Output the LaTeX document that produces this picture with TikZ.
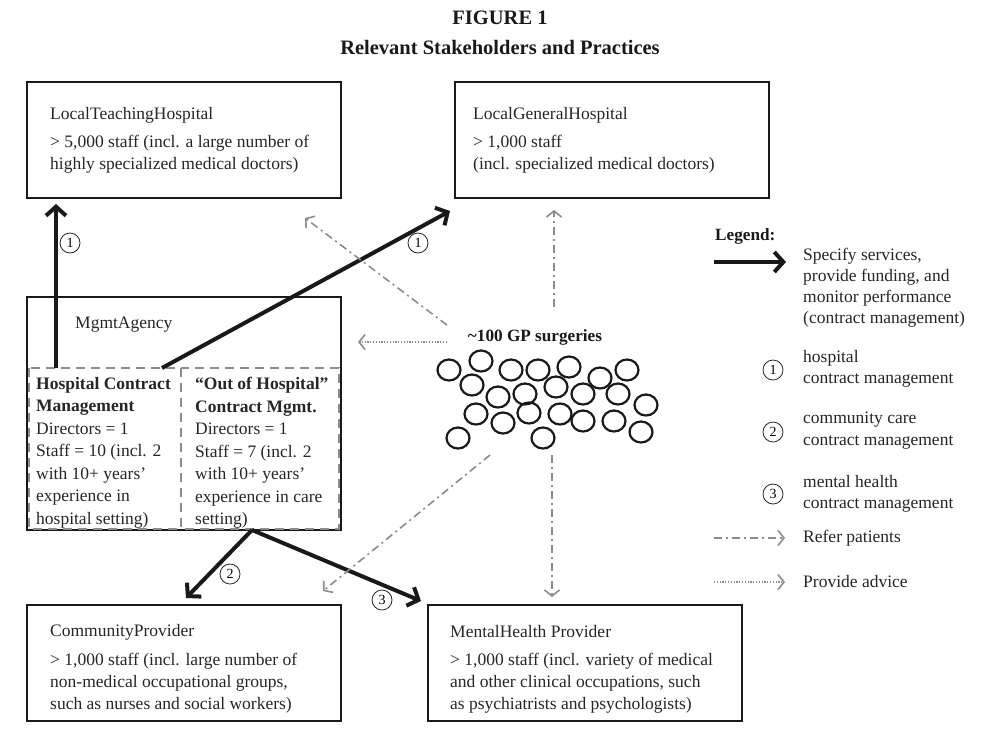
\documentclass[tikz,border=0pt]{standalone}
\usepackage{fontspec}
\setmainfont{Liberation Serif}
\usetikzlibrary{arrows.meta}
\begin{document}
\begin{tikzpicture}[x=1pt,y=-1pt,
  box/.style={draw=black!90, line width=2.2pt, inner sep=0pt},
  txt/.style={inner sep=0pt, align=left, font=\fontsize{17.5}{22}\selectfont, text=black!85},
  ttl/.style={inner sep=0pt, font=\fontsize{20.5}{22}\bfseries\selectfont, text=black!90},
  contract/.style={line width=4pt, draw=black!90, -{Straight Barb[length=9pt,width=20pt,line width=4pt]}},
  refer/.style={line width=1.6pt, draw=black!45, dash pattern=on 8pt off 4pt on 2pt off 4pt, -{Straight Barb[length=6pt,width=15pt,line width=1.6pt]}},
  advice/.style={line width=1.6pt, draw=black!45, dash pattern=on 1.2pt off 1.6pt, -{Straight Barb[length=6pt,width=15pt,line width=1.6pt]}},
  inner/.style={draw=black!45, line width=2.2pt, dash pattern=on 9pt off 6pt},
  num/.style={circle, draw=black!85, line width=0.8pt, inner sep=0pt, minimum size=20pt, font=\fontsize{14}{14}\selectfont},
  gpc/.style={draw=black!90, line width=2.2pt},
  bold/.style={inner sep=0pt, font=\fontsize{17.2}{18}\bfseries\selectfont, text=black!90}
]
\useasboundingbox (0,0) rectangle (1001,748);

% title
\node[ttl] (t1) at (500,18) {FIGURE 1};
\node[ttl] (t2) at (500,47) {Relevant Stakeholders and Practices};

% boxes
\node[box, minimum width=314pt, minimum height=116pt] (lth) at (184,140) {};
\node[txt, anchor=west] (lthT) at (50,115) {LocalTeachingHospital};
\node[txt, anchor=north west] (lthB) at (50,135) {> 5,000 staff (incl. a large number of\\highly specialized medical doctors)};

\node[box, minimum width=314pt, minimum height=116pt] (lgh) at (612,140) {};
\node[txt, anchor=west] (lghT) at (473,115) {LocalGeneralHospital};
\node[txt, anchor=north west] (lghB) at (473,135) {> 1,000 staff\\(incl. specialized medical doctors)};

\node[box, minimum width=314pt, minimum height=116pt] (cp) at (184,663) {};
\node[txt, anchor=west] (cpT) at (50,632) {CommunityProvider};
\node[txt, anchor=north west] (cpB) at (50,653) {> 1,000 staff (incl. large number of\\non-medical occupational groups,\\such as nurses and social workers)};

\node[box, minimum width=314pt, minimum height=116pt] (mh) at (585,663) {};
\node[txt, anchor=west] (mhT) at (450,632) {MentalHealth Provider};
\node[txt, anchor=north west] (mhB) at (450,653) {> 1,000 staff (incl. variety of medical\\and other clinical occupations, such\\as psychiatrists and psychologists)};

% management agency
\node[box, minimum width=314pt, minimum height=233pt] (ma) at (184,413.5) {};
\node[txt, anchor=west] (maT) at (75,325) {MgmtAgency};
\draw[inner] (29,368) rectangle (181,529);
\draw[inner] (181,368) rectangle (339,529);
\node[txt, anchor=north west, font=\fontsize{17.5}{22.5}\selectfont] (hcm) at (36,377) {\textbf{Hospital Contract}\\\textbf{Management}\\Directors = 1\\Staff = 10 (incl. 2\\with 10+ years'\\experience in\\hospital setting)};
\node[txt, anchor=north west, font=\fontsize{17.5}{22.5}\selectfont] (ohm) at (195,377) {\textbf{``Out of Hospital''}\\\textbf{Contract Mgmt.}\\Directors = 1\\Staff = 7 (incl. 2\\with 10+ years'\\experience in care\\setting)};

\coordinate (hcmTop) at (56,368);
\coordinate (ohmTop) at (162,368);
\coordinate (maBot) at (252,530);
\coordinate (lthIn) at (56,204);
\coordinate (lghIn) at (450,211);
\coordinate (cpIn) at (186,598);
\coordinate (mhIn) at (421,601);

\draw[contract] (hcmTop) -- (lthIn);
\draw[contract] (ohmTop) -- (lghIn);
\draw[contract] (maBot) -- (cpIn);
\draw[contract] (maBot) -- (mhIn);

\node[num] (n1a) at (70,243) {1};
\node[num] (n1b) at (418,243) {1};
\node[num] (n2) at (230,574) {2};
\node[num] (n3) at (382,600) {3};

% GP surgeries
\node[bold] (gp) at (535,337) {\textasciitilde100 GP surgeries};
\foreach \x/\y in {449/370,481/361,511/370,538/370,569/367,600/378,627/370,
  472/385,498/397,525/394,556/387,583/394,618/394,646/405,
  476/414,503/423,529/413,560/414,583/421,614/421,641/432,458/438,543/438}
  \draw[gpc] (\x,\y) ellipse [x radius=11.5, y radius=10.5];

\coordinate (r1s) at (447,325);
\coordinate (r1e) at (305,218);
\coordinate (r2s) at (554,307);
\coordinate (r2e) at (554,210);
\coordinate (r3s) at (490,455);
\coordinate (r3e) at (323,591);
\coordinate (r4s) at (552,455);
\coordinate (r4e) at (552,597);
\coordinate (a1s) at (447,342);
\coordinate (a1e) at (358,342);
\draw[refer] (r1s) -- (r1e);
\draw[refer] (r2s) -- (r2e);
\draw[refer] (r3s) -- (r3e);
\draw[refer] (r4s) -- (r4e);
\draw[advice] (a1s) -- (a1e);

% legend
\node[bold, anchor=west] (lg) at (715,236) {Legend:};
\coordinate (lc1) at (714,262);
\coordinate (lc2) at (786,262);
\draw[contract] (lc1) -- (lc2);
\node[txt, anchor=north west, font=\fontsize{17.5}{21}\selectfont] (lgt1) at (803,248) {Specify services,\\provide funding, and\\monitor performance\\(contract management)};
\node[num] (ln1) at (773,370) {1};
\node[txt, anchor=north west, font=\fontsize{17.5}{21.5}\selectfont] (lgt2) at (803,350) {hospital\\contract management};
\node[num] (ln2) at (773,432) {2};
\node[txt, anchor=north west, font=\fontsize{17.5}{21.5}\selectfont] (lgt3) at (803,412) {community care\\contract management};
\node[num] (ln3) at (773,494) {3};
\node[txt, anchor=north west, font=\fontsize{17.5}{21.5}\selectfont] (lgt4) at (803,475) {mental health\\contract management};
\coordinate (lr1) at (714,538);
\coordinate (lr2) at (785,538);
\draw[refer] (lr1) -- (lr2);
\node[txt, anchor=west] (lgt5) at (803,538) {Refer patients};
\coordinate (la1) at (714,582);
\coordinate (la2) at (785,582);
\draw[advice] (la1) -- (la2);
\node[txt, anchor=west] (lgt6) at (803,582) {Provide advice};
\end{tikzpicture}
\end{document}
